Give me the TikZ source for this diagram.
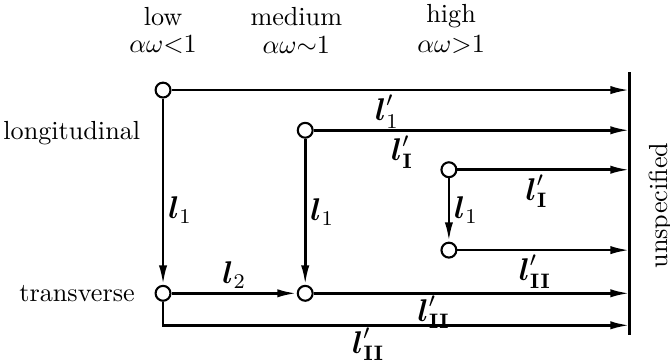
\documentclass[tikz,border=0pt]{standalone}
\usepackage{amsmath}
\usetikzlibrary{arrows.meta,positioning}

\tikzset{
  state/.style={circle, draw, fill=white, line width=0.8pt, inner sep=0pt, minimum size=2mm},
  flow/.style={line width=1pt, -{Latex[length=2.6mm,width=1.1mm]}},
  lab/.style={font=\large, inner sep=0.5pt},
  head/.style={inner sep=0pt},
}
\newcommand{\lenl}{\boldsymbol{l}}

\begin{document}
\begin{tikzpicture}[every node/.style={font=\normalsize}]
\useasboundingbox (0,0) rectangle (9,4.85);
% column heads
\node[head] (low) at (2.19,4.63) {low};
\node[head] at (2.19,4.25) {$\alpha\omega{<}1$};
\node[head] (medium) at (3.98,4.63) {medium};
\node[head] at (3.98,4.25) {$\alpha\omega{\sim}1$};
\node[head] (high) at (6.06,4.63) {high};
\node[head] at (6.06,4.25) {$\alpha\omega{>}1$};
% states
\node[state] (lowL) at (2.19,3.64) {};
\node[state] (medL) at (4.10,3.10) {};
\node[state] (highL) at (6.03,2.57) {};
\node[state] (highT) at (6.03,1.49) {};
\node[state] (lowT) at (2.19,0.91) {};
\node[state] (medT) at (4.10,0.91) {};
\coordinate (corner) at (2.19,0.48);
\node[head, anchor=east] at (1.89,3.06) {longitudinal};
\node[head, left=2.6mm of lowT] {transverse};
% the wall
\coordinate (top) at (8.46,3.88);
\coordinate (bot) at (8.46,0.35);
\draw[line width=1.1pt] (top) -- (bot);
\node[rotate=90] at (8.88,2.09) {unspecified};
% low
\draw[flow] (lowL) -- node[lab, below=1pt, pos=0.47] {$\lenl'_1$} (lowL -| top);
\draw[flow] (lowL) -- node[lab, right=1pt, pos=0.6] {$\lenl_1$} (lowT);
\draw[flow] (lowT) -- node[lab, above=1pt] {$\lenl_2$} (medT);
\draw[flow] (lowT) -- (corner) -- node[lab, below=0pt, pos=0.44] {$\lenl'_{\mathbf{II}}$} (corner -| top);
% medium
\draw[flow] (medL) -- node[lab, below=1pt, pos=0.28] {$\lenl'_{\mathbf{I}}$} (medL -| top);
\draw[flow] (medL) -- node[lab, right=1pt, pos=0.5] {$\lenl_1$} (medT);
\draw[flow] (medT) -- node[lab, below, pos=0.38] {$\lenl'_{\mathbf{II}}$} (medT -| top);
% high
\draw[flow] (highL) -- node[lab, below=1pt, pos=0.46] {$\lenl'_{\mathbf{I}}$} (highL -| top);
\draw[flow] (highL) -- node[lab, right=1pt, pos=0.5] {$\lenl_1$} (highT);
\draw[flow] (highT) -- node[lab, below=1pt, pos=0.45] {$\lenl'_{\mathbf{II}}$} (highT -| top);
\end{tikzpicture}
\end{document}
